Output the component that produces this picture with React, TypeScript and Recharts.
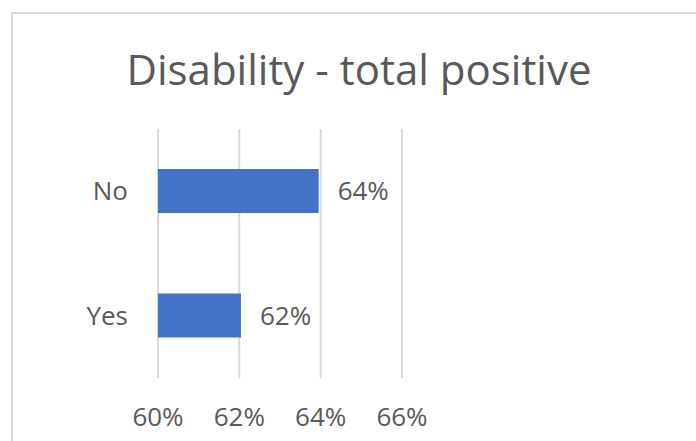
import React from 'react';
import { BarChart, Bar, XAxis, YAxis, CartesianGrid, LabelList } from 'recharts';

const categories = ['No', 'Yes'];
const positiveShare = [63.95, 62.04];
const xTicks = [60, 62, 64, 66];
const chartTitle = 'Disability - total positive';

const data = categories.map((name, i) => ({ name, value: positiveShare[i] }));

const FONT = '"Open Sans", sans-serif';
const TEXT = '#595959';

export default function App() {
  return (
    <div style={{ position: 'absolute', left: 0, top: 0, width: 696, height: 441, overflow: 'hidden', background: '#fff' }}>
      <div style={{ position: 'absolute', left: 11, top: 12, width: 800, height: 600, border: '2px solid #d9d9d9', boxSizing: 'border-box' }} />
      <svg style={{ position: 'absolute', left: 0, top: 0 }} width={696} height={441}>
        <text x={359} y={85} textAnchor="middle" fontFamily={FONT} fontSize={42} fill={TEXT}>
          {chartTitle}
        </text>
      </svg>
      <div style={{ position: 'absolute', left: 0, top: 0 }}>
        <BarChart
          width={696}
          height={441}
          data={data}
          layout="vertical"
          margin={{ top: 129, right: 294, bottom: 13, left: 0 }}
          barSize={44}
        >
          <CartesianGrid horizontal={false} vertical={true} stroke="#d9d9d9" strokeWidth={2} />
          <XAxis
            type="number"
            domain={[60, 66]}
            ticks={xTicks}
            tickFormatter={(v: number) => `${v}%`}
            axisLine={false}
            tickLine={false}
            tickSize={0}
            tickMargin={30}
            height={50}
            tick={{ fill: TEXT, fontSize: 26, fontFamily: FONT }}
            interval={0}
          />
          <YAxis
            type="category"
            dataKey="name"
            width={158}
            axisLine={false}
            tickLine={false}
            tickSize={0}
            tickMargin={30}
            tick={{ fill: TEXT, fontSize: 26, fontFamily: FONT }}
          />
          <Bar dataKey="value" fill="#4472c4" isAnimationActive={false}>
            <LabelList
              dataKey="value"
              position="right"
              offset={19}
              formatter={(v: number) => `${Math.round(v)}%`}
              style={{ fill: TEXT, fontSize: 26, fontFamily: FONT }}
            />
          </Bar>
        </BarChart>
      </div>
    </div>
  );
}
